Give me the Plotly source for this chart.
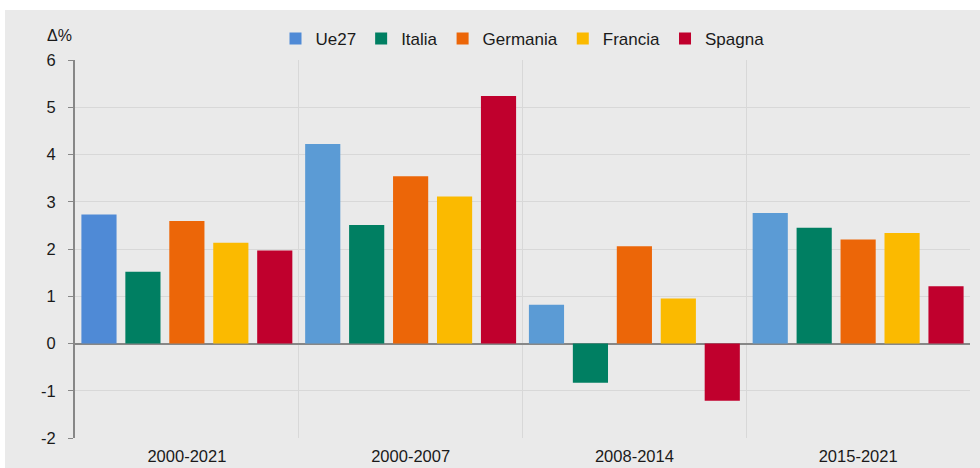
import plotly.graph_objects as go

categories = ["2000-2021", "2000-2007", "2008-2014", "2015-2021"]
series_names = ["Ue27", "Italia", "Germania", "Francia", "Spagna"]
ue27 = [2.73, 4.22, 0.82, 2.76]
italia = [1.52, 2.51, -0.83, 2.45]
germania = [2.59, 3.54, 2.06, 2.20]
francia = [2.13, 3.11, 0.95, 2.34]
spagna = [1.97, 5.24, -1.21, 1.21]
y_ticks = [-2, -1, 0, 1, 2, 3, 4, 5, 6]

values = [ue27, italia, germania, francia, spagna]
colors = ["#5B9BD5", "#007F62", "#EC6608", "#FBBA00", "#C0002D"]
bar_colors = [
    ["#4F8AD6", "#5B9BD5", "#5B9BD5", "#5B9BD5"],
    colors[1], colors[2], colors[3], colors[4],
]

fig = go.Figure()
for name, vals, c, bc in zip(series_names, values, colors, bar_colors):
    fig.add_trace(go.Bar(
        x=categories, y=vals, name=name,
        marker=dict(color=bc, line=dict(width=0)),
    ))

bg = "#EAEAEA"
font_family = "Liberation Sans, Arial, sans-serif"
fig.update_layout(
    width=980, height=468,
    barmode="group", bargap=0.018, bargroupgap=0.2,
    paper_bgcolor="white", plot_bgcolor=bg,
    margin=dict(l=75, r=10, t=60, b=30, autoexpand=False),
    font=dict(family=font_family, size=16, color="#1a1a1a"),
    showlegend=True,
    legend=dict(orientation="h", x=0.5, xanchor="center", y=1 + 21 / 378, yanchor="middle",
                font=dict(size=17), bgcolor="rgba(0,0,0,0)", itemwidth=30,
                traceorder="normal"),
    shapes=[dict(type="rect", xref="paper", yref="paper",
                 x0=-70 / 895, x1=1 + 12 / 895, y0=-32 / 378, y1=1 + 50 / 378,
                 fillcolor=bg, line=dict(width=0), layer="below")],
    annotations=[dict(text="Δ%", xref="paper", yref="paper", x=-15.5 / 895, y=1 + 25 / 378,
                      xanchor="center", yanchor="middle", showarrow=False,
                      font=dict(size=16, color="#1a1a1a"))],
)
fig.update_xaxes(
    type="category", tickson="boundaries", showgrid=True, gridcolor="#D8D8D8", gridwidth=1,
    ticks="", showline=False, tickfont=dict(size=16.5), ticklen=0, ticklabelstandoff=6,
)
fig.update_yaxes(
    range=[-2, 6], tickvals=y_ticks, ticktext=[str(v) for v in y_ticks],
    showgrid=True, gridcolor="#D8D8D8", gridwidth=1,
    zeroline=True, zerolinecolor="#878787", zerolinewidth=2,
    showline=True, linecolor="#878787", linewidth=2,
    ticks="outside", ticklen=5, tickcolor="#878787", tickwidth=1,
    tickfont=dict(size=16.5), ticklabelstandoff=9,
)

fig.write_html("out.html", config={"displayModeBar": False},
               post_script="document.body.style.margin='0px';")
